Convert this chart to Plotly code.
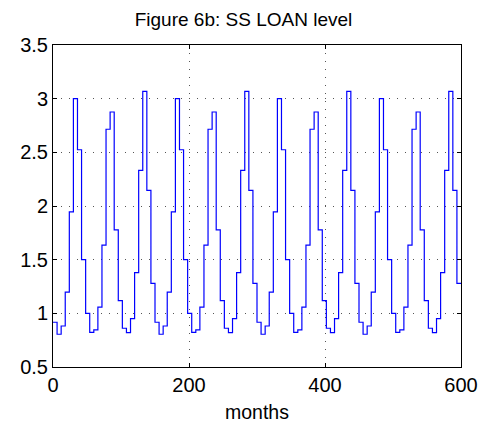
import plotly.graph_objects as go

# Step starts (months) and stair values
months = list(range(0, 600, 6))
loan_level = [
    0.917, 0.805, 0.882, 1.197, 1.946, 3.000, 2.524, 1.500, 1.000, 0.823,
    0.845, 1.057, 1.635, 2.715, 2.876, 1.778, 1.119, 0.861, 0.820, 0.951,
    1.380, 2.331, 3.068, 2.145, 1.280,
    0.917, 0.805, 0.882, 1.197, 1.946, 3.000, 2.524, 1.500, 1.000, 0.823,
    0.845, 1.057, 1.635, 2.715, 2.876, 1.778, 1.119, 0.861, 0.820, 0.951,
    1.380, 2.331, 3.068, 2.145, 1.280,
    0.917, 0.805, 0.882, 1.197, 1.946, 3.000, 2.524, 1.500, 1.000, 0.823,
    0.845, 1.057, 1.635, 2.715, 2.876, 1.778, 1.119, 0.861, 0.820, 0.951,
    1.380, 2.331, 3.068, 2.145, 1.280,
    0.917, 0.805, 0.882, 1.197, 1.946, 3.000, 2.524, 1.500, 1.000, 0.823,
    0.845, 1.057, 1.635, 2.715, 2.876, 1.778, 1.119, 0.861, 0.820, 0.951,
    1.380, 2.331, 3.068, 2.145, 1.280,
]
# close the last step at the right edge
x_vals = months + [600]
y_vals = loan_level + [loan_level[-1]]

x_ticks = [0, 200, 400, 600]
y_ticks = [0.5, 1, 1.5, 2, 2.5, 3, 3.5]
y_tick_labels = ["0.5", "1", "1.5", "2", "2.5", "3", "3.5"]

fig = go.Figure()
fig.add_trace(go.Scatter(
    x=x_vals, y=y_vals, mode="lines",
    line=dict(color="#0000ff", width=1.2, shape="hv"),
    showlegend=False, hoverinfo="skip",
))

font = "Liberation Sans, Arial, sans-serif"
fig.update_layout(
    width=487, height=428,
    margin=dict(l=53, r=26, t=45, b=61, autoexpand=False),
    paper_bgcolor="white", plot_bgcolor="white",
    title=dict(text="Figure 6b: SS LOAN level", x=0.5, xref="container",
               xanchor="center", y=1, yref="container", yanchor="top",
               pad=dict(t=13),
               font=dict(family=font, size=19, color="black")),
    font=dict(family=font, color="black"),
)
fig.update_xaxes(
    range=[0, 600], tickvals=x_ticks, ticks="inside", ticklen=4,
    tickcolor="black", showline=True, linecolor="black", linewidth=1,
    mirror="ticks", showgrid=True, gridcolor="#555", griddash="1px,7px",
    gridwidth=1, zeroline=False, automargin=False,
    tickfont=dict(family=font, size=20, color="black"),
    title=dict(text="months", font=dict(family=font, size=19.5, color="black"),
               standoff=10),
)
fig.update_yaxes(
    range=[0.5, 3.5], tickvals=y_ticks, ticktext=y_tick_labels,
    ticks="inside", ticklen=4, tickcolor="black", showline=True,
    linecolor="black", linewidth=1, mirror="ticks", showgrid=True,
    gridcolor="#555", griddash="1px,7px", gridwidth=1, zeroline=False,
    automargin=False,
    tickfont=dict(family=font, size=20, color="black"),
)

fig.write_html("out.html", config={"displayModeBar": False},
               post_script="document.body.style.margin='0';")
